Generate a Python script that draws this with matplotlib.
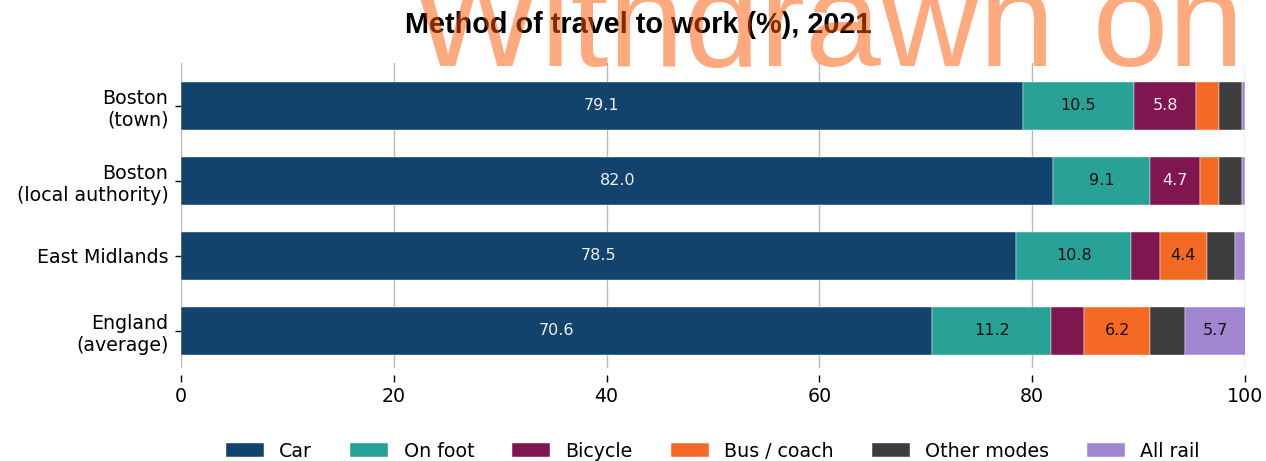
import matplotlib
matplotlib.use("Agg")
import matplotlib.pyplot as plt
import numpy as np

categories = ["Boston\n(town)", "Boston\n(local authority)", "East Midlands", "England\n(average)"]
modes = ["Car", "On foot", "Bicycle", "Bus / coach", "Other modes", "All rail"]
car = [79.1, 82.0, 78.5, 70.6]
on_foot = [10.5, 9.1, 10.8, 11.2]
bicycle = [5.8, 4.7, 2.7, 3.1]
bus_coach = [2.2, 1.8, 4.4, 6.2]
other_modes = [2.1, 2.1, 2.7, 3.3]
all_rail = [0.3, 0.3, 0.9, 5.7]
colors = ["#12436D", "#28A197", "#801650", "#F46A25", "#3D3D3D", "#A285D1"]
label_colors = ["#F0F0F0", "#111111", "#F0F0F0", "#111111", "#F0F0F0", "#111111"]
title = "Method of travel to work (%), 2021"
watermark = "Withdrawn on 4"
xticks = [0, 20, 40, 60, 80, 100]

series = [car, on_foot, bicycle, bus_coach, other_modes, all_rail]

fig = plt.figure(figsize=(12.66, 4.61), dpi=100)
ax = fig.add_axes([181/1266, 1-368/461, (1245-181)/1266, (368-63)/461])
for s in ["top", "right", "left"]:
    ax.spines[s].set_visible(False)
ax.spines["bottom"].set_position(("outward", 5))
ax.spines["bottom"].set_visible(False)

y = np.arange(len(categories))
left = np.zeros(len(categories))
for name, vals, col, lc in zip(modes, series, colors, label_colors):
    vals = np.array(vals)
    ax.barh(y, vals, left=left, height=0.64, color=col, label=name,
            edgecolor="white", linewidth=0.3, zorder=3)
    for yi, (l, v) in enumerate(zip(left, vals)):
        if v >= 4:
            ax.text(l + v/2, yi, f"{v:.1f}", ha="center", va="center",
                    color=lc, fontsize=11.5, zorder=4)
    left = left + vals

ax.set_xlim(0, 100)
ax.set_ylim(3.5, -0.57)
ax.set_yticks(y)
ax.set_yticklabels(categories, fontsize=13.7)
ax.set_xticks(xticks)
ax.set_xticklabels([str(t) for t in xticks], fontsize=13.7)
ax.xaxis.grid(True, color="#b8b8b8", linewidth=1.0, zorder=0)
ax.set_axisbelow(True)
ax.tick_params(axis="x", length=5, width=1, color="black", pad=4)
ax.tick_params(axis="y", length=4, width=1, color="black", pad=5)

leg = ax.legend(loc="upper center", bbox_to_anchor=(0.5, -0.185), ncol=6,
                frameon=False, fontsize=13.7, handlelength=2.0, columnspacing=2.0)

fig.text(0.504, 1-25/461, title, ha="center", va="center", fontsize=20.8,
         fontweight="bold", family=["Liberation Sans Narrow", "Liberation Sans"], zorder=3)
fig.text(412/1266, 1-66/461, watermark, ha="left", va="baseline", fontsize=98,
         family="Liberation Sans", color="#FF5500", alpha=0.5, zorder=10)

fig.savefig("out.png", dpi=100)
